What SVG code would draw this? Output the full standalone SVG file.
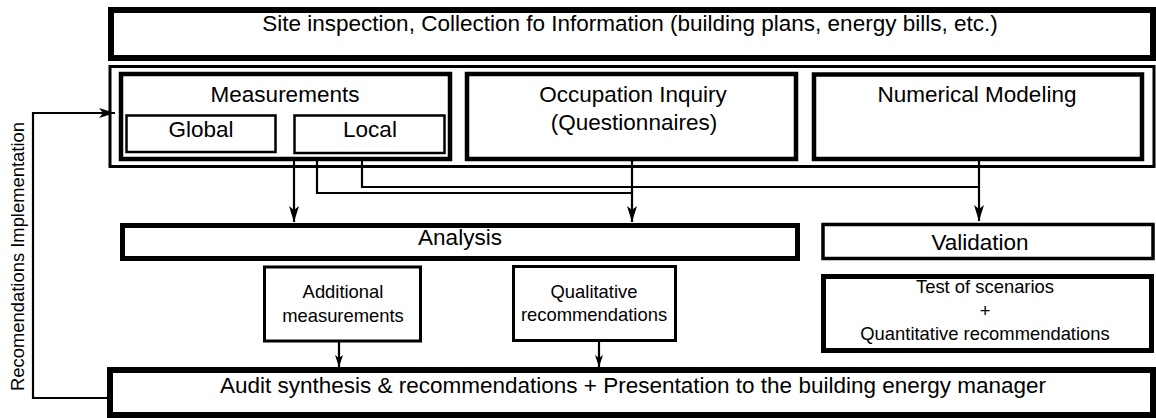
<svg xmlns="http://www.w3.org/2000/svg" width="1156" height="418" viewBox="0 0 1156 418">
<defs>
<style>
text{font-family:"Liberation Sans",Arial,sans-serif;fill:#000;text-anchor:middle}
.big{font-size:22.5px}
.sm{font-size:18.4px}
rect{fill:#fff;stroke:#000}
.w6{stroke-width:6}
.w5{stroke-width:5}
.w45{stroke-width:4.5}
.w35{stroke-width:3.5}
.w3{stroke-width:3}
.w25{stroke-width:2.5}
.conn path{fill:none;stroke:#000;stroke-width:2.2}
</style>
<marker id="ah" viewBox="0 0 16 10" refX="16" refY="5" markerWidth="16" markerHeight="10" markerUnits="userSpaceOnUse" orient="auto">
<path d="M0,0 L16,5 L0,10 L4,5 z" fill="#000"/>
</marker>
<marker id="ahs" viewBox="0 0 12 8" refX="12" refY="4" markerWidth="12" markerHeight="8" markerUnits="userSpaceOnUse" orient="auto">
<path d="M0,0 L12,4 L0,8 L3,4 z" fill="#000"/>
</marker>
</defs>

<g id="site-inspection">
<rect class="w6" x="111" y="10" width="1042" height="48"/>
<text class="big" x="630" y="31">Site inspection, Collection fo Information (building plans, energy bills, etc.)</text>
</g>

<g id="data-collection">
<rect class="w3" x="110" y="66.5" width="1044" height="100"/>
</g>

<g id="measurements">
<rect class="w45" x="121" y="74" width="329" height="85"/>
<text class="big" x="285" y="102">Measurements</text>
</g>
<g id="global">
<rect class="w25" x="126.5" y="115.5" width="149" height="36.5"/>
<text class="big" x="201" y="137">Global</text>
</g>
<g id="local">
<rect class="w25" x="294.5" y="115.5" width="150" height="37.5"/>
<text class="big" x="370" y="137">Local</text>
</g>

<g id="occupation-inquiry">
<rect class="w45" x="467" y="74" width="329" height="85"/>
<text class="big" x="633" y="102">Occupation Inquiry</text>
<text class="big" x="634" y="130">(Questionnaires)</text>
</g>

<g id="numerical-modeling">
<rect class="w45" x="814" y="74.5" width="328" height="84.5"/>
<text class="big" x="977" y="102">Numerical Modeling</text>
</g>

<g id="analysis">
<rect class="w5" x="122.5" y="225.5" width="675" height="33"/>
<text class="big" x="460" y="245">Analysis</text>
</g>

<g id="validation">
<rect class="w35" x="823" y="224.5" width="330" height="34"/>
<text class="big" x="980" y="250">Validation</text>
</g>

<g id="additional-measurements">
<rect class="w3" x="264.5" y="267" width="156" height="74"/>
<text class="sm" x="343" y="298">Additional</text>
<text class="sm" x="343" y="322">measurements</text>
</g>

<g id="qualitative-recommendations">
<rect class="w3" x="513.5" y="266.5" width="162" height="74"/>
<text class="sm" x="594" y="298">Qualitative</text>
<text class="sm" x="594" y="321">recommendations</text>
</g>

<g id="test-scenarios">
<rect class="w5" x="823.5" y="276.5" width="328" height="74"/>
<text class="sm" x="985" y="293">Test of scenarios</text>
<text class="sm" x="985" y="317">+</text>
<text class="sm" x="985" y="340">Quantitative recommendations</text>
</g>

<g id="audit-synthesis">
<rect class="w6" x="110" y="370" width="1043" height="45"/>
<text class="big" x="633" y="393">Audit synthesis &amp; recommendations + Presentation to the building energy manager</text>
</g>

<g id="connectors" class="conn">
<path d="M294,161 V222" marker-end="url(#ah)"/>
<path d="M317,161 V193 H632"/>
<path d="M362,161 V187 H979"/>
<path d="M632,161 V222" marker-end="url(#ah)"/>
<path d="M979,159 V221" marker-end="url(#ah)"/>
<path d="M339,342 V367" marker-end="url(#ahs)"/>
<path d="M599,341 V367" marker-end="url(#ahs)"/>
<path d="M108,398 H33 V113 H115" marker-end="url(#ah)"/>
<text class="sm" transform="translate(24,256.5) rotate(-90)" x="0" y="0">Recomendations Implementation</text>
</g>
</svg>
